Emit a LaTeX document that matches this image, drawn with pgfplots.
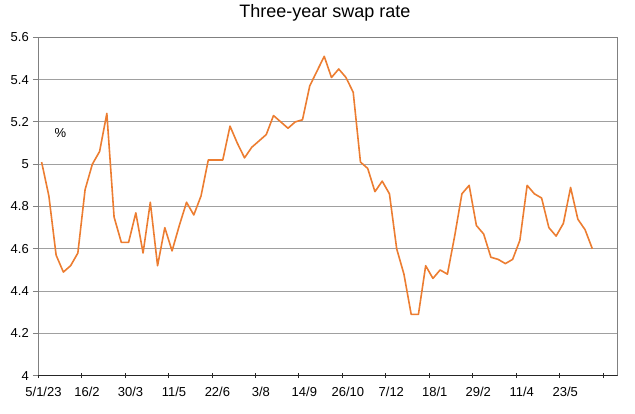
\documentclass[border=0pt]{standalone}
\usepackage{fontspec}
\setmainfont{Liberation Sans}
\usepackage{pgfplots}
\pgfplotsset{compat=1.18}
\definecolor{swaporange}{RGB}{236,125,49}
\definecolor{gridgray}{RGB}{160,160,160}

% weekly three-year swap rate, x = week index from 5/1/23
\pgfplotstableread{
x     y
0.5   5.01
1.5   4.85
2.5   4.57
3.5   4.49
4.5   4.52
5.5   4.58
6.5   4.88
7.5   5.00
8.5   5.06
9.5   5.24
10.5  4.75
11.5  4.63
12.5  4.63
13.5  4.77
14.5  4.58
15.5  4.82
16.5  4.52
17.5  4.70
18.5  4.59
19.5  4.71
20.5  4.82
21.5  4.76
22.5  4.85
23.5  5.02
24.5  5.02
25.5  5.02
26.5  5.18
27.5  5.10
28.5  5.03
29.5  5.08
30.5  5.11
31.5  5.14
32.5  5.23
33.5  5.20
34.5  5.17
35.5  5.20
36.5  5.21
37.5  5.37
38.5  5.44
39.5  5.51
40.5  5.41
41.5  5.45
42.5  5.41
43.5  5.34
44.5  5.01
45.5  4.98
46.5  4.87
47.5  4.92
48.5  4.86
49.5  4.60
50.5  4.48
51.5  4.29
52.5  4.29
53.5  4.52
54.5  4.46
55.5  4.50
56.5  4.48
57.5  4.66
58.5  4.86
59.5  4.90
60.5  4.71
61.5  4.67
62.5  4.56
63.5  4.55
64.5  4.53
65.5  4.55
66.5  4.64
67.5  4.90
68.5  4.86
69.5  4.84
70.5  4.70
71.5  4.66
72.5  4.72
73.5  4.89
74.5  4.74
75.5  4.69
76.5  4.60
}\swaprate

\begin{document}
\begin{tikzpicture}
\begin{axis}[
    scale only axis,
    width=579.7pt,
    height=338.4pt,
    xmin=0, xmax=80,
    ymin=4, ymax=5.6,
    xtick={0,6,...,78},
    xticklabels={5/1/23,16/2,30/3,11/5,22/6,3/8,14/9,26/10,7/12,18/1,29/2,11/4,23/5,},
    ytick={4,4.2,...,5.6},
    yticklabels={4,4.2,4.4,4.6,4.8,5,5.2,5.4,5.6},
    xtick pos=bottom,
    ytick pos=left,
    x tick style={black!85, line width=0.8pt},
    y tick style={gray, line width=0.8pt},
    xtick align=center,
    ytick align=outside,
    major tick length=5pt,
    ymajorgrids,
    grid style={gridgray, line width=0.8pt},
    axis line style={gray, line width=0.9pt},
    tick label style={font=\fontsize{13}{15}\selectfont, text=black},
    /pgf/number format/assume math mode=true,
    xticklabel style={anchor=north, inner sep=0pt, yshift=-9pt, xshift=5.5pt},
    yticklabel style={anchor=east, inner sep=0pt, xshift=-4pt},
    title={Three-year swap rate},
    title style={at={(0.5,1)}, anchor=base, yshift=13.3pt, xshift=-3pt,
                 font=\fontsize{18}{21}\selectfont, inner sep=0pt},
]
\addplot[swaporange, line width=1.6pt, line join=round, no marks] table[x=x, y=y] {\swaprate};
\draw[black!85, line width=0.9pt] (rel axis cs:0,0) -- (rel axis cs:1,0);
\node[font=\fontsize{13}{15}\selectfont] at (axis cs:3.1,5.145) {\%};
\end{axis}
\path ([shift={(-38pt,-38.3pt)}]current axis.south west) rectangle ([shift={(17.3pt,37.3pt)}]current axis.north east);
\end{tikzpicture}
\end{document}
